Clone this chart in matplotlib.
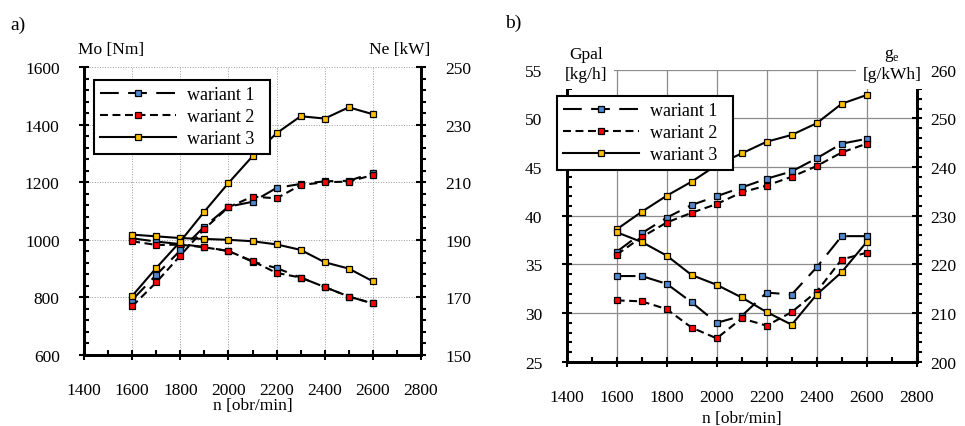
import matplotlib
matplotlib.use("Agg")
import matplotlib.pyplot as plt
from matplotlib.ticker import MultipleLocator

plt.rcParams['font.family'] = ['Liberation Serif', 'DejaVu Serif']
plt.rcParams['mathtext.fontset'] = 'custom'
plt.rcParams['mathtext.rm'] = 'Liberation Serif'

# obroty silnika
n = [1600, 1700, 1800, 1900, 2000, 2100, 2200, 2300, 2400, 2500, 2600]

# a) moment obrotowy [Nm]
mo_w1 = [1005, 994, 985, 975, 961, 924, 902, 869, 836, 803, 779]
mo_w2 = [995, 982, 983, 974, 961, 926, 885, 869, 836, 803, 779]
mo_w3 = [1018, 1012, 1006, 1003, 1000, 995, 984, 965, 922, 900, 856]

# a) moc [kW]
ne_w1 = [169.1, 177.8, 186.3, 194.6, 201.5, 203.2, 208.0, 209.4, 210.3, 210.5, 213.2]
ne_w2 = [166.9, 175.2, 184.5, 193.8, 201.3, 205.0, 204.4, 209.0, 210.0, 210.2, 212.5]
ne_w3 = [170.5, 180.2, 189.4, 199.8, 209.7, 219.0, 227.0, 232.9, 232.1, 236.0, 233.6]

# b) godzinowe zuzycie paliwa [kg/h]
gpal_w1 = [36.3, 38.2, 39.8, 41.1, 42.0, 42.9, 43.8, 44.55, 45.9, 47.4, 47.9]
gpal_w2 = [36.0, 37.8, 39.3, 40.3, 41.2, 42.4, 43.1, 44.0, 45.1, 46.5, 47.4]
gpal_w3 = [38.6, 40.4, 42.05, 43.5, 45.2, 46.4, 47.6, 48.3, 49.5, 51.5, 52.4]

# b) jednostkowe zuzycie paliwa [g/kWh]
ge_w1 = [217.6, 217.6, 216.0, 212.2, 208.0, 209.4, 214.2, 213.8, 219.4, 225.8, 225.8]
ge_w2 = [212.6, 212.4, 210.8, 207.0, 204.8, 208.9, 207.4, 210.2, 214.4, 221.0, 222.4]
ge_w3 = [226.6, 224.6, 221.8, 217.8, 215.8, 213.2, 210.2, 207.6, 213.8, 218.4, 224.6]

labels = ['wariant 1', 'wariant 2', 'wariant 3']
colors = ['#4f8ad0', '#ff0000', '#ffc000']
dashes = [(9, 4.5), (3.8, 2.2), None]

FS = 12.5
W, H = 965, 427


def style(i):
    kw = dict(color='black', lw=1.5, marker='s', ms=5, mfc=colors[i], mec='black', mew=0.9)
    if dashes[i] is not None:
        kw['dashes'] = dashes[i]
    return kw


def setup(ax, axr, grid_kw, ypad, rpad, xpad):
    for a in (ax, axr):
        for s in a.spines.values():
            s.set_linewidth(2)
        a.spines['top'].set_visible(False)
    ax.set_xlim(1400, 2800)
    ax.xaxis.set_major_locator(MultipleLocator(200))
    ax.xaxis.set_minor_locator(MultipleLocator(100))
    ax.tick_params(which='major', direction='inout', length=7, width=1.5, labelsize=FS)
    ax.tick_params(which='minor', direction='in', length=3.5, width=1.5)
    ax.tick_params(axis='x', which='major', pad=xpad)
    ax.tick_params(axis='y', which='major', pad=ypad)
    axr.tick_params(which='major', direction='inout', length=7, width=1.5, labelsize=FS, pad=rpad)
    axr.tick_params(which='minor', direction='out', length=3.5, width=1.5)
    ax.grid(which='major', **grid_kw)
    ax.set_axisbelow(True)


def add_legend(ax, axl, x0, y0):
    h, l = ax.get_legend_handles_labels()
    leg = axl.legend(h, [s + '  ' for s in l], loc='upper left', bbox_to_anchor=(x0 / W, 1 - y0 / H),
                     bbox_transform=fig.transFigure, borderaxespad=0, fontsize=13, handlelength=4.2,
                     handletextpad=0.6, borderpad=0.35, labelspacing=0.28, numpoints=1,
                     fancybox=False, framealpha=1, edgecolor='black')
    leg.get_frame().set_linewidth(1.5)


def rect(x0, y0, x1, y1):
    return [x0 / W, 1 - y1 / H, (x1 - x0) / W, (y1 - y0) / H]


fig = plt.figure(figsize=(W / 100, H / 100), dpi=100)

# ---------- a) ----------
ax1 = fig.add_axes(rect(84, 68, 421, 356))
ax2 = ax1.twinx()
for i, mo in enumerate([mo_w1, mo_w2, mo_w3]):
    ax1.plot(n, mo, label=labels[i], **style(i))
for i, ne in enumerate([ne_w1, ne_w2, ne_w3]):
    ax2.plot(n, ne, **style(i))
ax1.set_ylim(600, 1600)
ax1.yaxis.set_major_locator(MultipleLocator(200))
ax1.yaxis.set_minor_locator(MultipleLocator(40))
ax2.set_ylim(150, 250)
ax2.yaxis.set_major_locator(MultipleLocator(20, offset=10))
ax2.yaxis.set_minor_locator(MultipleLocator(4, offset=2))
setup(ax1, ax2, dict(color='#9a9a9a', lw=0.7, linestyle=':'), ypad=14, rpad=14, xpad=16)
ax1.set_xlabel('n [obr/min]', fontsize=FS, labelpad=-1)
add_legend(ax1, ax2, 94, 81)

fig.text(78 / W, 1 - 50 / H, 'Mo [Nm]', fontsize=FS, ha='left', va='center')
fig.text(430 / W, 1 - 50 / H, 'Ne [kW]', fontsize=FS, ha='right', va='center')
fig.text(10 / W, 1 - 25 / H, 'a)', fontsize=14, ha='left', va='center')

# ---------- b) ----------
ax3 = fig.add_axes(rect(566.7, 70.7, 916.7, 362.7))
ax4 = ax3.twinx()
for i, g in enumerate([gpal_w1, gpal_w2, gpal_w3]):
    ax3.plot(n, g, label=labels[i], **style(i))
for i, g in enumerate([ge_w1, ge_w2, ge_w3]):
    ax4.plot(n, g, **style(i))
ax3.set_ylim(25, 55)
ax3.yaxis.set_major_locator(MultipleLocator(5))
ax3.yaxis.set_minor_locator(MultipleLocator(1))
ax4.set_ylim(200, 260)
ax4.yaxis.set_major_locator(MultipleLocator(10))
ax4.yaxis.set_minor_locator(MultipleLocator(2))
setup(ax3, ax4, dict(color='#8c8c8c', lw=0.9, linestyle='-'), ypad=14, rpad=6, xpad=16)
ax3.set_xlabel('n [obr/min]', fontsize=FS, labelpad=4)
add_legend(ax3, ax4, 557, 97)

box = dict(boxstyle='square,pad=0.4', facecolor='white', edgecolor='none')
fig.text(586 / W, 1 - 65 / H, 'Gpal\n[kg/h]', fontsize=FS, ha='center', va='center',
         linespacing=1.35, bbox=box)
fig.text(892 / W, 1 - 65 / H, 'g$_\\mathrm{e}$\n[g/kWh]', fontsize=FS, ha='center', va='center',
         linespacing=1.3, bbox=box)
fig.text(505 / W, 1 - 23 / H, 'b)', fontsize=14, ha='left', va='center')

plt.savefig('out.png', dpi=100)
